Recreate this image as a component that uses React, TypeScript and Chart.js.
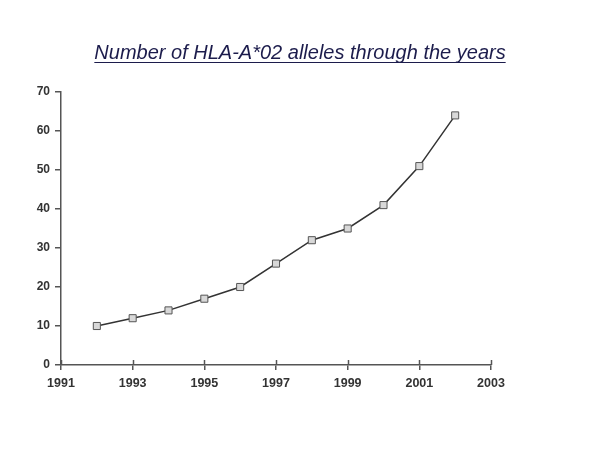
import React, { useEffect, useRef } from "react";
import { Chart, registerables } from "chart.js";

Chart.register(...registerables);

const titleText = "Number of HLA-A*02 alleles through the years";
const years = [1992, 1993, 1994, 1995, 1996, 1997, 1998, 1999, 2000, 2001, 2002];
const alleles = [10, 12, 14, 17, 20, 26, 32, 35, 41, 51, 64];
const xMin = 1991;
const xMax = 2003;
const yMin = 0;
const yMax = 70;

const titlePlugin = {
  id: "underlinedTitle",
  afterDraw(chart: any) {
    const ctx = chart.ctx;
    ctx.save();
    ctx.font = "italic 20px 'Liberation Sans', Arial, sans-serif";
    ctx.fillStyle = "#1c1c4c";
    ctx.textAlign = "center";
    ctx.textBaseline = "alphabetic";
    const cx = 300;
    const by = 59;
    ctx.fillText(titleText, cx, by);
    const w = ctx.measureText(titleText).width;
    ctx.strokeStyle = "#1c1c4c";
    ctx.lineWidth = 1;
    ctx.beginPath();
    ctx.moveTo(cx - w / 2, by + 3.5);
    ctx.lineTo(cx + w / 2, by + 3.5);
    ctx.stroke();
    // upward tick parts on the x axis
    const xs = chart.scales.x;
    const bottom = chart.chartArea.bottom;
    ctx.strokeStyle = "#555";
    ctx.lineWidth = 1.5;
    xs.ticks.forEach((t: any) => {
      const px = Math.round(xs.getPixelForValue(t.value)) + 0.5;
      ctx.beginPath();
      ctx.moveTo(px, bottom - 5);
      ctx.lineTo(px, bottom);
      ctx.stroke();
    });
    ctx.restore();
  },
};

export default function App() {
  const ref = useRef<HTMLCanvasElement>(null);
  useEffect(() => {
    if (!ref.current) return;
    const chart = new Chart(ref.current, {
      type: "line",
      data: {
        datasets: [
          {
            data: years.map((y, i) => ({ x: y, y: alleles[i] })),
            borderColor: "#333",
            borderWidth: 1.5,
            pointStyle: "rect",
            pointRadius: 5,
            pointBackgroundColor: "#d8d8d8",
            pointBorderColor: "#555",
            pointBorderWidth: 1,
            tension: 0,
          },
        ],
      },
      options: {
        animation: false,
        responsive: false,
        maintainAspectRatio: false,
        layout: { padding: { left: 0, right: 109, top: 92, bottom: 0 } },
        plugins: { legend: { display: false }, title: { display: false }, tooltip: { enabled: false } },
        scales: {
          x: {
            type: "linear",
            min: xMin,
            max: xMax,
            afterFit: (s: any) => { s.height = 85; },
            ticks: {
              stepSize: 2,
              callback: (v: any) => String(v),
              color: "#333",
              font: { family: "'Liberation Sans', Arial, sans-serif", size: 12.5, weight: "bold" },
              padding: 6,
              maxRotation: 0,
            },
            grid: { drawOnChartArea: false, drawTicks: true, tickLength: 5, color: "#555", lineWidth: 1.5 },
            border: { display: true, color: "#555", width: 1.5 },
          },
          y: {
            min: yMin,
            max: yMax,
            afterFit: (s: any) => { s.width = 61; },
            ticks: {
              stepSize: 10,
              color: "#333",
              font: { family: "'Liberation Sans', Arial, sans-serif", size: 12, weight: "bold" },
              padding: 5,
            },
            grid: { drawOnChartArea: false, drawTicks: true, tickLength: 6, color: "#555", lineWidth: 1.5 },
            border: { display: true, color: "#555", width: 1.5 },
          },
        },
      },
      plugins: [titlePlugin],
    } as any);
    return () => chart.destroy();
  }, []);
  return (
    <div style={{ position: "absolute", left: 0, top: 0, width: 600, height: 450, background: "#fff" }}>
      <canvas ref={ref} width={600} height={450} style={{ display: "block" }} />
    </div>
  );
}
